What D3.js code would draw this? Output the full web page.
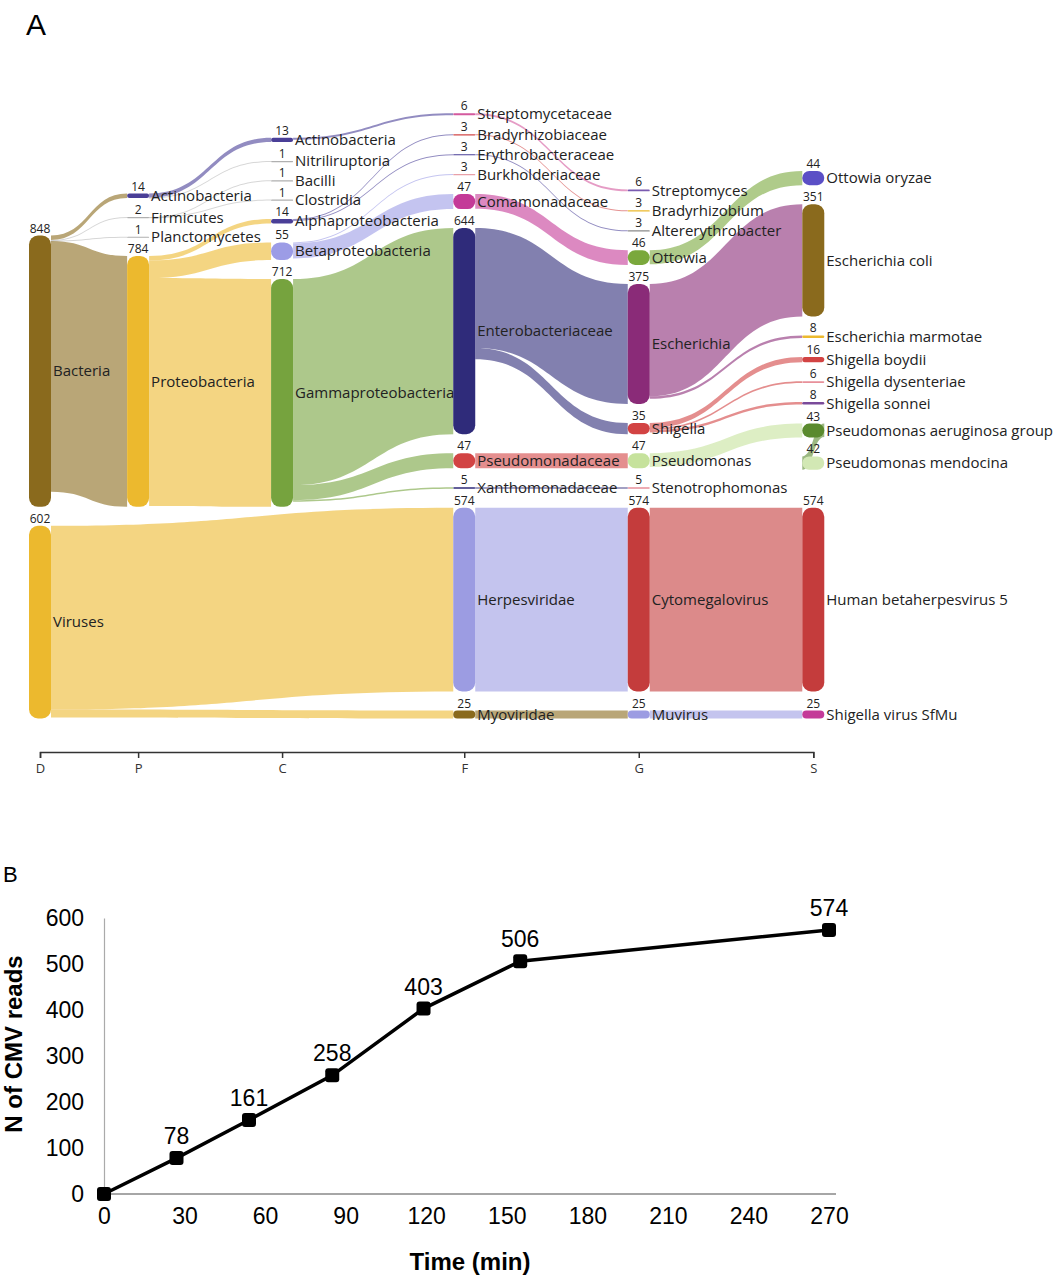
<!DOCTYPE html>
<html><head><meta charset="utf-8">
<script src="https://cdn.jsdelivr.net/npm/d3@7"></script>
<style>
body{margin:0;background:#fff;}
svg{display:block;}
</style></head>
<body>
<svg id="chart" width="1062" height="1280"></svg>
<script>
// ---------------- DATA: panel A (Sankey) ----------------
const ranks = ["D","P","C","F","G","S"];
const nodeNames = [
  "Bacteria","Viruses",
  "Actinobacteria ","Firmicutes","Planctomycetes","Proteobacteria",
  "Actinobacteria","Nitriliruptoria","Bacilli","Clostridia","Alphaproteobacteria","Betaproteobacteria","Gammaproteobacteria",
  "Streptomycetaceae","Bradyrhizobiaceae","Erythrobacteraceae","Burkholderiaceae","Comamonadaceae","Enterobacteriaceae","Pseudomonadaceae","Xanthomonadaceae","Herpesviridae","Myoviridae",
  "Streptomyces","Bradyrhizobium","Altererythrobacter","Ottowia","Escherichia","Shigella","Pseudomonas","Stenotrophomonas","Cytomegalovirus","Muvirus",
  "Ottowia oryzae","Escherichia coli","Escherichia marmotae","Shigella boydii","Shigella dysenteriae","Shigella sonnei","Pseudomonas aeruginosa group","Pseudomonas mendocina","Human betaherpesvirus 5","Shigella virus SfMu"
];
const nodeRanks = [
  "D","D",
  "P","P","P","P",
  "C","C","C","C","C","C","C",
  "F","F","F","F","F","F","F","F","F","F",
  "G","G","G","G","G","G","G","G","G","G",
  "S","S","S","S","S","S","S","S","S","S"
];
const nodeReads = [
  848,602,
  14,2,1,784,
  13,1,1,1,14,55,712,
  6,3,3,3,47,644,47,5,574,25,
  6,3,3,46,375,35,47,5,574,25,
  44,351,8,16,6,8,43,42,574,25
];
const linkSources = [
  "Bacteria","Bacteria","Bacteria","Bacteria","Viruses","Viruses",
  "Actinobacteria ","Actinobacteria ","Firmicutes","Firmicutes",
  "Proteobacteria","Proteobacteria","Proteobacteria",
  "Actinobacteria","Alphaproteobacteria","Alphaproteobacteria","Betaproteobacteria","Betaproteobacteria",
  "Gammaproteobacteria","Gammaproteobacteria","Gammaproteobacteria",
  "Streptomycetaceae","Bradyrhizobiaceae","Erythrobacteraceae","Comamonadaceae",
  "Enterobacteriaceae","Enterobacteriaceae","Pseudomonadaceae","Xanthomonadaceae","Herpesviridae","Myoviridae",
  "Ottowia","Escherichia","Escherichia","Shigella","Shigella","Shigella","Pseudomonas","Pseudomonas aeruginosa group",
  "Cytomegalovirus","Muvirus"
];
const linkTargets = [
  "Actinobacteria ","Firmicutes","Planctomycetes","Proteobacteria","Herpesviridae","Myoviridae",
  "Actinobacteria","Nitriliruptoria","Bacilli","Clostridia",
  "Alphaproteobacteria","Betaproteobacteria","Gammaproteobacteria",
  "Streptomycetaceae","Bradyrhizobiaceae","Erythrobacteraceae","Burkholderiaceae","Comamonadaceae",
  "Enterobacteriaceae","Pseudomonadaceae","Xanthomonadaceae",
  "Streptomyces","Bradyrhizobium","Altererythrobacter","Ottowia",
  "Escherichia","Shigella","Pseudomonas","Stenotrophomonas","Cytomegalovirus","Muvirus",
  "Ottowia oryzae","Escherichia coli","Escherichia marmotae","Shigella boydii","Shigella dysenteriae","Shigella sonnei","Pseudomonas aeruginosa group","Pseudomonas mendocina",
  "Human betaherpesvirus 5","Shigella virus SfMu"
];
const linkReads = [
  14,2,1,784,574,25,
  13,1,1,1,
  14,55,712,
  6,3,3,3,47,
  644,47,5,
  6,3,3,46,
  375,35,47,5,574,25,
  44,351,8,16,6,8,43,42,
  574,25
];

// ---------------- DATA: panel B (line chart) ----------------
const timeMin = [0,27,54,85,119,155,270];
const cmvReads = [0,78,161,258,403,506,574];
const xTicks = [0,30,60,90,120,150,180,210,240,270];
const yTicks = [0,100,200,300,400,500,600];

// ---------------- STYLES ----------------
const nodeColor = {
  "Bacteria":"#8a6a1d","Viruses":"#ecb92e",
  "Actinobacteria ":"#4a3f97","Firmicutes":"#b0b0b0","Planctomycetes":"#b0b0b0","Proteobacteria":"#ecb92e",
  "Actinobacteria":"#4a3f97","Nitriliruptoria":"#b0b0b0","Bacilli":"#b0b0b0","Clostridia":"#b0b0b0",
  "Alphaproteobacteria":"#4a3f97","Betaproteobacteria":"#9c9ce6","Gammaproteobacteria":"#76a33e",
  "Streptomycetaceae":"#d45a9e","Bradyrhizobiaceae":"#d24848","Erythrobacteraceae":"#4a3f97","Burkholderiaceae":"#e8a0a8",
  "Comamonadaceae":"#c43a98","Enterobacteriaceae":"#2f2b7a","Pseudomonadaceae":"#d24343","Xanthomonadaceae":"#2f2b7a",
  "Herpesviridae":"#9c9ce2","Myoviridae":"#8a6a1d",
  "Streptomyces":"#7a5ab0","Bradyrhizobium":"#ecb92e","Altererythrobacter":"#8a8a8a","Ottowia":"#7aa83c",
  "Escherichia":"#8a2b78","Shigella":"#d24343","Pseudomonas":"#c6e29c","Stenotrophomonas":"#e8909a",
  "Cytomegalovirus":"#c43c3c","Muvirus":"#9c9ce2",
  "Ottowia oryzae":"#5b4fc6","Escherichia coli":"#8a6a1d","Escherichia marmotae":"#ecb92e","Shigella boydii":"#d24343",
  "Shigella dysenteriae":"#e8909a","Shigella sonnei":"#7a4a9a","Pseudomonas aeruginosa group":"#5a8a2e",
  "Pseudomonas mendocina":"#d2e8b4","Human betaherpesvirus 5":"#c43c3c","Shigella virus SfMu":"#c43a98"
};
const labelFont = "'Open Sans', 'Noto Sans', sans-serif";

const svg = d3.select("#chart");

// ================= PANEL A =================
const nodeW = 22, py = 19, ky = 0.32;
const Y0 = 41, Y1 = 718.5, sLeft = 29;

const nodes = nodeNames.map((name,i)=>({name, index:i, layer:ranks.indexOf(nodeRanks[i]), value:nodeReads[i], sourceLinks:[], targetLinks:[]}));
const byName = new Map(nodes.map(n=>[n.name,n]));
const links = linkSources.map((s,i)=>({index:i, source:byName.get(s), target:byName.get(linkTargets[i]), value:linkReads[i]}));
links.forEach(l=>{ l.source.sourceLinks.push(l); l.target.targetLinks.push(l); l.width = l.value*ky; });

// column positions scaled by label string length
const colMaxChars = ranks.map((r,ci)=>d3.max(nodes.filter(n=>n.layer===ci), n=>n.name.trim().length));
const colX = [sLeft];
for (let i=1;i<ranks.length;i++) colX.push(colX[i-1] + nodeW + 15 + 7.64*colMaxChars[i-1]);
nodes.forEach(n=>{ n.x0 = colX[n.layer]; n.x1 = n.x0 + nodeW; });

// ---- Sankey node placement: each column is stacked upwards from its bottom edge in
//      taxonomic order; a column's lowest node never sinks below its parent's bottom;
//      a node fed from within its own column keeps an extra gap below it for the loop ----
(function layout(){
  const columns = ranks.map((r,ci)=>nodes.filter(n=>n.layer===ci));
  for (const col of columns){
    let limit = Y1;
    for (let i=col.length-1;i>=0;i--){
      const n = col[i];
      let bottom = limit;
      if (i === col.length-1){
        const pl = n.targetLinks.find(l=>l.source.layer < n.layer);
        if (pl) bottom = Math.min(bottom, pl.source.y1);
      }
      if (n.targetLinks.some(l=>l.source.layer === n.layer)) bottom -= py;
      n.y1 = bottom; n.y0 = bottom - n.value*ky;
      limit = n.y0 - py;
    }
    let top = Y0;
    for (const n of col){ if (n.y0 < top){ const d = top-n.y0; n.y0+=d; n.y1+=d; } top = n.y1 + py; }
  }
  for (const n of nodes){
    n.sourceLinks.sort((a,b)=>a.target.y0-b.target.y0 || a.index-b.index);
    n.targetLinks.sort((a,b)=>a.source.y0-b.source.y0 || a.index-b.index);
    let a = n.y0, b = n.y0;
    for (const l of n.sourceLinks){ l.y0 = a; a += l.width; }
    for (const l of n.targetLinks){ l.y1 = b; b += l.width; }
  }
})();

const gA = svg.append("g");
// links drawn as filled ribbons
gA.append("g").selectAll("path").data(links).join("path")
  .attr("d", l=>{
    const x0 = l.source.x1, x1 = l.target.x0, xm = d3.interpolateNumber(x0,x1)(0.5);
    const w = Math.max(1, l.width);
    const a0 = l.y0, a1 = l.y1, b0 = l.y0 + w, b1 = l.y1 + w;
    return `M${x0},${a0}C${xm},${a0} ${xm},${a1} ${x1},${a1}L${x1},${b1}C${xm},${b1} ${xm},${b0} ${x0},${b0}Z`;
  })
  .attr("fill", l=>l.value<=2 ? "#bbbbbb" : nodeColor[l.source.name])
  .attr("fill-opacity", 0.6);

// nodes
const gN = gA.append("g").selectAll("g").data(nodes).join("g");
gN.append("rect")
  .attr("x", n=>n.x0).attr("y", n=>n.y0)
  .attr("width", nodeW).attr("height", n=>Math.max(1.2, n.y1-n.y0))
  .attr("rx", n=>Math.min(9, Math.max(0.6,(n.y1-n.y0)/2))).attr("ry", n=>Math.min(9, Math.max(0.6,(n.y1-n.y0)/2)))
  .attr("fill", n=>nodeColor[n.name]);
gN.append("text")
  .attr("x", n=>n.x1 + 2).attr("y", n=>(n.y0+n.y1)/2)
  .attr("dy","0.35em")
  .attr("font-family", labelFont).attr("font-size", 15).attr("fill","#222")
  .text(n=>n.name.trim());
gN.append("text")
  .attr("x", n=>(n.x0+n.x1)/2).attr("y", n=>n.y0 - 3)
  .attr("text-anchor","middle")
  .attr("font-family", labelFont).attr("font-size", 12).attr("fill","#222")
  .text(n=>n.value);

// rank axis
const rankScale = d3.scaleOrdinal().domain(ranks).range(colX.map(x=>x+nodeW/2));
const axA = svg.append("g").attr("transform","translate(0,752)")
  .call(d3.axisBottom(rankScale).tickSize(6).tickSizeOuter(6));
axA.select(".domain").attr("stroke","#333").attr("stroke-width",1.5);
axA.selectAll(".tick line").attr("stroke","#333").attr("stroke-width",1.5);
axA.selectAll(".tick text").attr("font-family",labelFont).attr("font-size",13).attr("fill","#333").attr("dy","0.9em");

// panel label A
svg.append("text").attr("x",26).attr("y",35).attr("font-family","Liberation Sans, Arial, sans-serif").attr("font-size",30).text("A");

// ================= PANEL B =================
const x = d3.scaleLinear().domain([0,270]).range([104,829]);
const y = d3.scaleLinear().domain([0,600]).range([1194,918]);
const fB = "'Liberation Sans', Arial, sans-serif";
svg.append("text").attr("x",3).attr("y",882).attr("font-family",fB).attr("font-size",22).text("B");

const axX = svg.append("g").attr("transform",`translate(0,${y(0)})`)
  .call(d3.axisBottom(x).tickValues(xTicks).tickSize(0).tickSizeOuter(0).tickPadding(14));
axX.select(".domain").attr("d",`M${x(0)},0H${x(270)+7}`).attr("stroke","#888").attr("stroke-width",1.5);
axX.selectAll(".tick text").attr("font-family",fB).attr("font-size",23).attr("fill","#000");

const axY = svg.append("g").attr("transform",`translate(${x(0)},0)`)
  .call(d3.axisLeft(y).tickValues(yTicks).tickSize(0).tickSizeOuter(0).tickPadding(20));
axY.select(".domain").attr("stroke","#aaa").attr("stroke-width",1.2);
axY.selectAll(".tick text").attr("font-family",fB).attr("font-size",23).attr("fill","#000");

const pts = timeMin.map((t,i)=>({t, v:cmvReads[i]}));
svg.append("path").datum(pts)
  .attr("d", d3.line().x(d=>x(d.t)).y(d=>y(d.v)))
  .attr("fill","none").attr("stroke","#000").attr("stroke-width",3.5);
svg.append("g").selectAll("rect").data(pts).join("rect")
  .attr("x",d=>x(d.t)-7).attr("y",d=>y(d.v)-7).attr("width",14).attr("height",14)
  .attr("rx",3).attr("fill","#000");
svg.append("g").selectAll("text").data(pts.filter(d=>d.v>0)).join("text")
  .attr("x",d=>x(d.t)).attr("y",d=>y(d.v)-14)
  .attr("text-anchor","middle").attr("font-family",fB).attr("font-size",23).attr("fill","#000")
  .text(d=>d.v);

svg.append("text").attr("x",470).attr("y",1270).attr("text-anchor","middle")
  .attr("font-family",fB).attr("font-weight","bold").attr("font-size",24).text("Time (min)");
svg.append("text").attr("transform",`translate(22,${(y(0)+y(600))/2 -12}) rotate(-90)`)
  .attr("text-anchor","middle").attr("font-family",fB).attr("font-weight","bold").attr("font-size",24)
  .text("N of CMV reads");
</script>
</body></html>
